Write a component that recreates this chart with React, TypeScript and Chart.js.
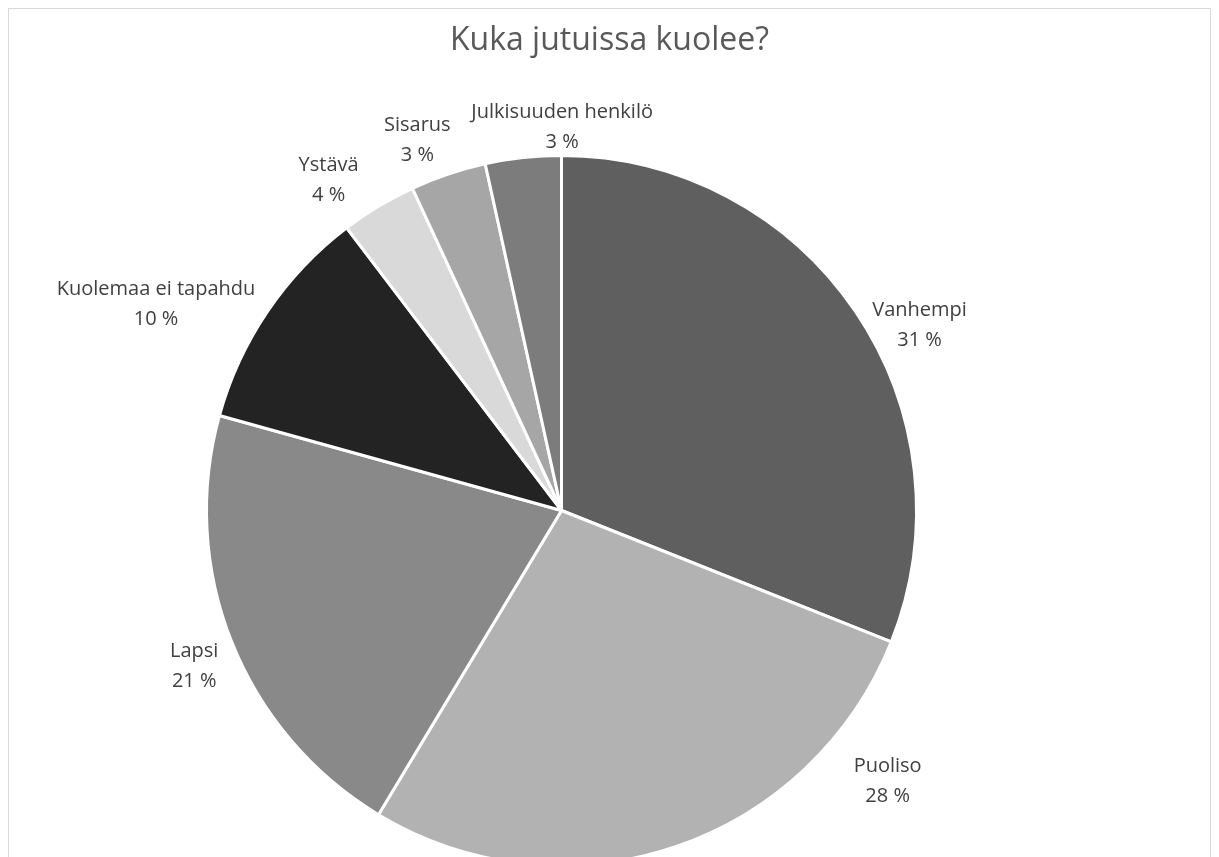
import React, { useEffect, useRef } from "react";
import { Chart, registerables } from "chart.js";

Chart.register(...registerables);

const title = "Kuka jutuissa kuolee?";
const categories = [
  "Vanhempi",
  "Puoliso",
  "Lapsi",
  "Kuolemaa ei tapahdu",
  "Ystävä",
  "Sisarus",
  "Julkisuuden henkilö",
];
const counts = [9, 8, 6, 3, 1, 1, 1];
const sliceColors = ["#5f5f5f", "#b2b2b2", "#898989", "#232323", "#d9d9d9", "#a6a6a6", "#7c7c7c"];
// label placement: polar angle (deg, clockwise from 12 o'clock) and radius factor
const labelAngles = [62.7, 129.7, 247, 297, 324.8, 338.7, 0.1];
const labelRadii = [1.135, 1.194, 1.124, 1.282, 1.138, 1.118, 1.079];

// Excel-style rounding: percentages that sum to 100 (largest remainder)
function roundedPercents(vals: number[]): number[] {
  const total = vals.reduce((a, b) => a + b, 0);
  const raw = vals.map((v) => (v / total) * 100);
  const floors = raw.map((r) => Math.floor(r));
  const rest = 100 - floors.reduce((a, b) => a + b, 0);
  const order = raw
    .map((r, i) => ({ i, rem: r - Math.floor(r) }))
    .sort((a, b) => b.rem - a.rem || a.i - b.i);
  const out = floors.slice();
  for (let k = 0; k < rest; k++) out[order[k].i] += 1;
  return out;
}

const FONT = "'Open Sans', 'Noto Sans', sans-serif";

const labelPlugin = {
  id: "outsideLabels",
  afterDraw(chart: any) {
    const ctx = chart.ctx;
    const meta = chart.getDatasetMeta(0);
    const pcts = roundedPercents(counts);
    ctx.save();
    // title
    ctx.fillStyle = "#595959";
    ctx.font = `32px ${FONT}`;
    ctx.textAlign = "center";
    ctx.textBaseline = "alphabetic";
    ctx.fillText(title, chart.width / 2, 41);
    // labels
    ctx.textBaseline = "middle";
    ctx.fillStyle = "#404040";
    ctx.font = `20px ${FONT}`;
    meta.data.forEach((arc: any, i: number) => {
      const R = arc.outerRadius;
      const a = (labelAngles[i] * Math.PI) / 180;
      const x = arc.x + Math.sin(a) * R * labelRadii[i];
      const y = arc.y - Math.cos(a) * R * labelRadii[i];
      ctx.fillText(categories[i], x, y - 15);
      ctx.fillText(`${pcts[i]} %`, x, y + 15);
    });
    ctx.restore();
  },
};

export default function App() {
  const ref = useRef<HTMLCanvasElement | null>(null);
  useEffect(() => {
    if (!ref.current) return;
    const chart = new Chart(ref.current, {
      type: "pie",
      data: {
        labels: categories,
        datasets: [
          {
            data: counts,
            backgroundColor: sliceColors,
            borderColor: "#ffffff",
            borderWidth: 3,
            hoverOffset: 0,
            offset: 0,
          },
        ],
      },
      options: {
        animation: false,
        responsive: false,
        maintainAspectRatio: false,
        devicePixelRatio: 1,
        layout: { padding: { top: 145, bottom: 22, left: 196, right: 292 } },
        plugins: {
          legend: { display: false },
          tooltip: { enabled: false },
          title: { display: false },
        },
      },
      plugins: [labelPlugin],
    });
    return () => chart.destroy();
  }, []);
  return (
    <div
      style={{
        width: 1201,
        height: 880,
        border: "1px solid #d9d9d9",
        background: "#fff",
        overflow: "hidden",
      }}
    >
      <canvas ref={ref} width={1201} height={880} style={{ display: "block" }} />
    </div>
  );
}
